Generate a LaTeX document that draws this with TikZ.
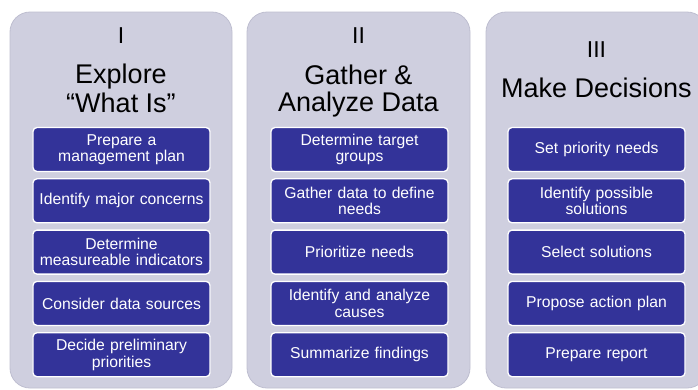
\documentclass[tikz,border=0pt]{standalone}
\usepackage{fontspec}
\setmainfont{Liberation Sans}
\newfontfamily\boxfont[WordSpace=1.35]{Liberation Sans}
\definecolor{panelfill}{RGB}{207,207,223}
\definecolor{paneledge}{RGB}{190,190,208}
\definecolor{boxblue}{RGB}{51,51,153}
\tikzset{
  panelbox/.style={fill=panelfill, draw=paneledge, line width=0.8bp, rounded corners=20bp},
  stepbox/.style={fill=boxblue, draw=white, line width=1.3bp, rounded corners=4bp,
    minimum width=177bp, minimum height=44bp, text=white, align=center,
    font=\boxfont\fontsize{15.7bp}{16.5bp}\selectfont, inner sep=0pt, text width=176bp},
  numeral/.style={font=\fontsize{23bp}{23bp}\selectfont, anchor=base, inner sep=0pt},
  titleline/.style={font=\fontsize{27bp}{29bp}\selectfont, anchor=base, inner sep=0pt},
}
\begin{document}
\begin{tikzpicture}[x=1bp,y=-1bp]
\useasboundingbox (0,0) rectangle (698,389);
\clip (0,0) rectangle (698,389);
% panels
\draw[panelbox] (10,12) rectangle (232,388);
\draw[panelbox] (247,12) rectangle (470,388);
\draw[panelbox] (486,12) rectangle (707,388);
% column I
\node[numeral] (n1) at (121,43) {I};
\node[titleline] (t1a) at (121,83) {Explore};
\node[titleline] (t1b) at (121,112) {“What Is”};
\node[stepbox] (a1) at (121.5,149.5) {Prepare a\\management plan};
\node[stepbox] (a2) at (121.5,200.8) {Identify major concerns};
\node[stepbox] (a3) at (121.5,252.1) {Determine\\measureable indicators};
\node[stepbox] (a4) at (121.5,303.4) {Consider data sources};
\node[stepbox] (a5) at (121.5,354.7) {Decide preliminary\\priorities};
% column II
\node[numeral] (n2) at (358.5,43) {II};
\node[titleline] (t2a) at (358.5,84) {Gather \&};
\node[titleline] (t2b) at (358.5,111) {Analyze Data};
\node[stepbox] (b1) at (359.5,149.5) {Determine target\\groups};
\node[stepbox] (b2) at (359.5,200.8) {Gather data to define\\needs};
\node[stepbox] (b3) at (359.5,252.1) {Prioritize needs};
\node[stepbox] (b4) at (359.5,303.4) {Identify and analyze\\causes};
\node[stepbox] (b5) at (359.5,354.7) {Summarize findings};
% column III
\node[numeral] (n3) at (596.5,57) {III};
\node[titleline] (t3a) at (596.5,97) {Make Decisions};
\node[stepbox] (c1) at (596.5,149.5) {Set priority needs};
\node[stepbox] (c2) at (596.5,200.8) {Identify possible\\solutions};
\node[stepbox] (c3) at (596.5,252.1) {Select solutions};
\node[stepbox] (c4) at (596.5,303.4) {Propose action plan};
\node[stepbox] (c5) at (596.5,354.7) {Prepare report};
\end{tikzpicture}
\end{document}
